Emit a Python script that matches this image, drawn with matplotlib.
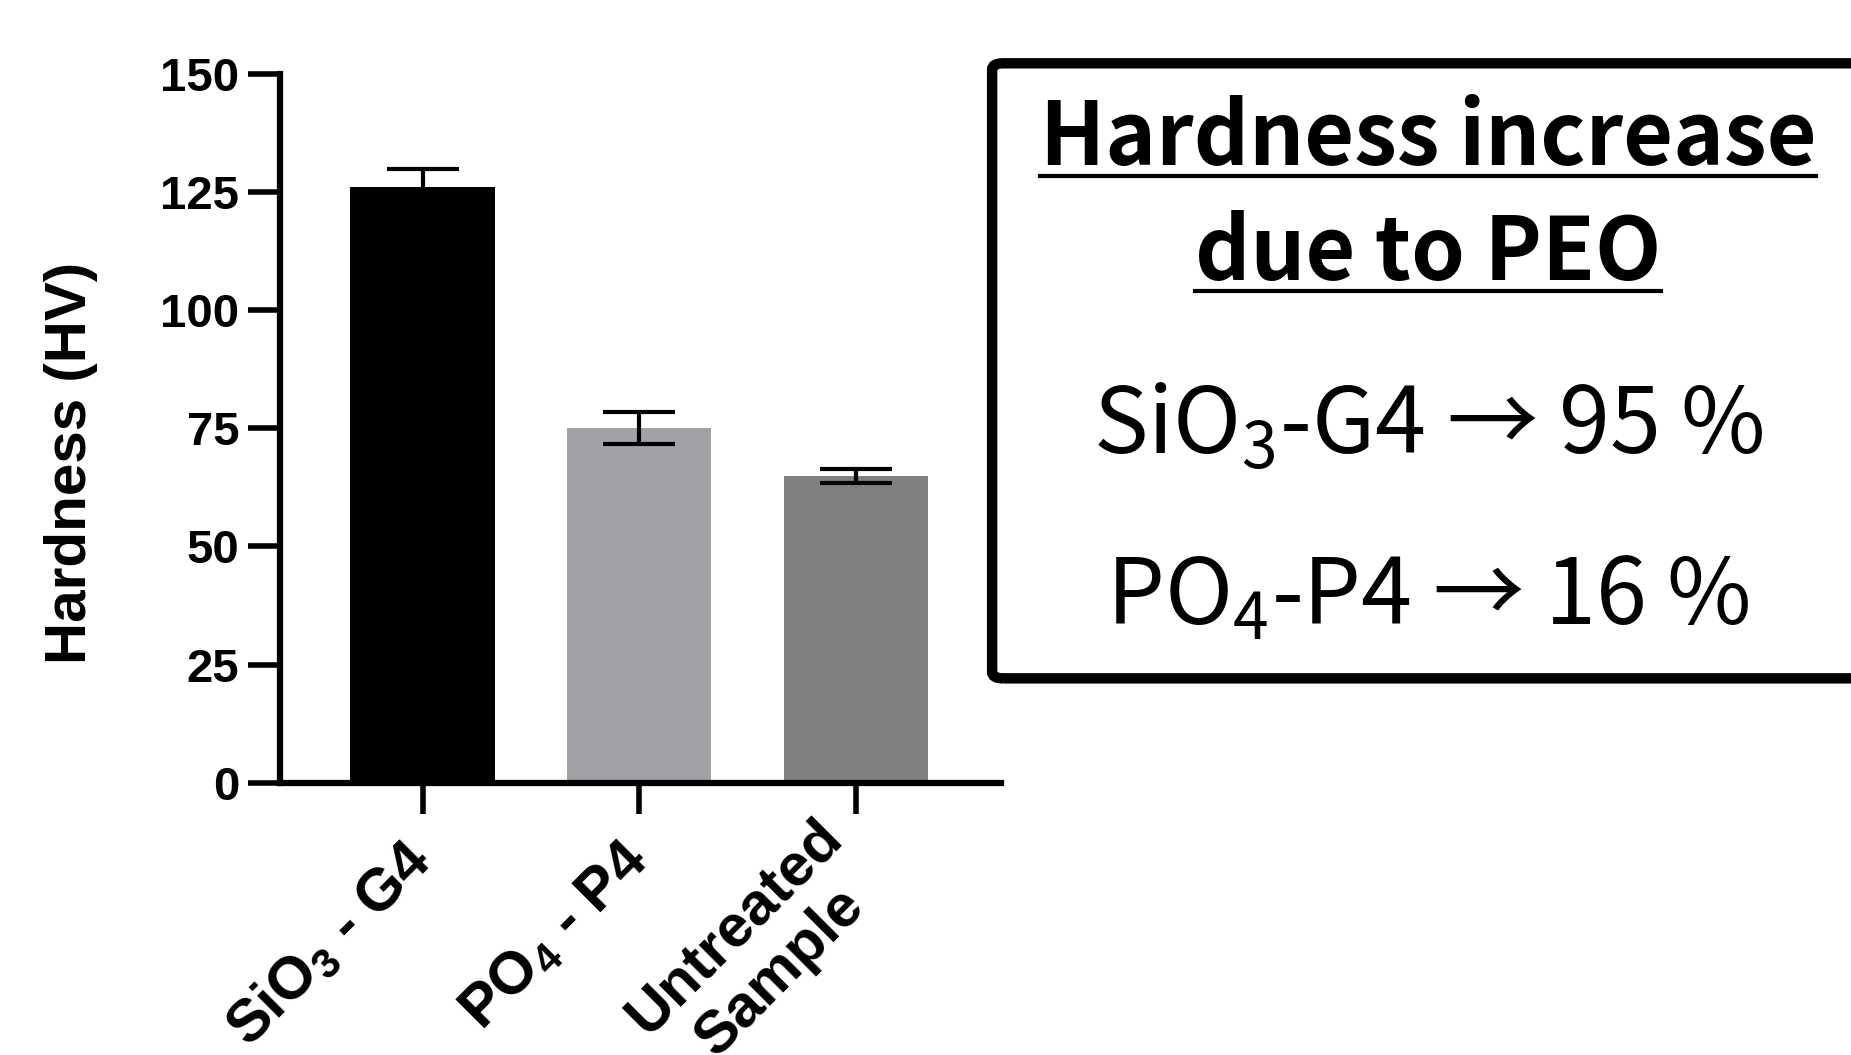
import numpy as np
import matplotlib
matplotlib.use("Agg")
import matplotlib.pyplot as plt
from matplotlib.patches import FancyBboxPatch
from matplotlib.lines import Line2D

# data
samples = ["SiO$_\\mathbf{3}$ - G4", "PO$_\\mathbf{4}$ - P4", "Untreated\nSample"]
hardness = [126.0, 75.1, 64.9]
hardness_err = [3.8, 3.4, 1.4]
bar_colors = ["#000000", "#a2a1a6", "#808080"]
yticks = [0, 25, 50, 75, 100, 125, 150]

box_title = ["Hardness increase", "due to PEO"]
box_lines = ["SiO$_3$-G4 \u2192 95 %", "PO$_4$-P4 \u2192 16 %"]

plt.rcParams['font.family'] = ['Liberation Sans', 'DejaVu Sans']
plt.rcParams['mathtext.fontset'] = 'custom'
plt.rcParams['mathtext.rm'] = 'Noto Sans CJK JP'
plt.rcParams['mathtext.bf'] = 'Liberation Sans:bold'

fig = plt.figure(figsize=(18.51, 10.55), dpi=100)
ax = fig.add_axes([0.151, 0.258, 0.390, 0.672])

x = np.arange(len(samples))
ax.bar(x, hardness, width=0.665, color=bar_colors, zorder=2)
ax.errorbar(x, hardness, yerr=hardness_err, fmt='none', ecolor='black',
            elinewidth=3, capsize=26, capthick=3, zorder=3)

ax.set_xlim(-0.66, 2.67)
ax.set_ylim(0, 150)
ax.set_yticks(yticks)
ax.set_xticks(x)
ax.set_xticklabels(samples, rotation=45, ha='right', va='center',
                   rotation_mode='anchor', fontsize=43, fontweight='bold')
for lbl in ax.get_xticklabels():
    lbl.set_multialignment('center')
for lbl in ax.get_yticklabels():
    lbl.set_fontsize(34)
    lbl.set_fontweight('bold')

ax.spines['top'].set_visible(False)
ax.spines['right'].set_visible(False)
for s in ['left', 'bottom']:
    ax.spines[s].set_linewidth(4.5)
ax.tick_params(axis='y', length=23, width=4, pad=6)
ax.tick_params(axis='x', length=22, width=4, pad=27)

ax.set_ylabel("Hardness (HV)", fontsize=42, fontweight='bold')
ax.yaxis.set_label_coords(-0.252, 0.451)

# text box on the right
box = FancyBboxPatch((0.536, 0.357), 0.52, 0.583,
                     boxstyle="round,pad=0,rounding_size=0.006",
                     transform=fig.transFigure, fill=False,
                     edgecolor='black', linewidth=7.5)
fig.add_artist(box)

cx = 0.7715
cjk = ['Noto Sans CJK JP', 'DejaVu Sans']
t1 = fig.text(cx, 0.8436, box_title[0], ha='center', va='baseline',
              fontsize=62, fontweight='bold', family=cjk)
t2 = fig.text(cx, 0.7346, box_title[1], ha='center', va='baseline',
              fontsize=62, fontweight='bold', family=cjk)
fig.text(cx, 0.5697, box_lines[0], ha='center', va='baseline',
         fontsize=66, family=cjk)
fig.text(cx, 0.4076, box_lines[1], ha='center', va='baseline',
         fontsize=66, family=cjk)

# underline the title lines
fig.canvas.draw()
r = fig.canvas.get_renderer()
W, H = fig.bbox.width, fig.bbox.height
for t in [t1, t2]:
    bb = t.get_window_extent(renderer=r)
    yl = t.get_position()[1] - 11 / H
    fig.add_artist(Line2D([bb.x0 / W, bb.x1 / W], [yl, yl], color='black',
                          linewidth=3, transform=fig.transFigure))

fig.savefig("out.png", dpi=100)
